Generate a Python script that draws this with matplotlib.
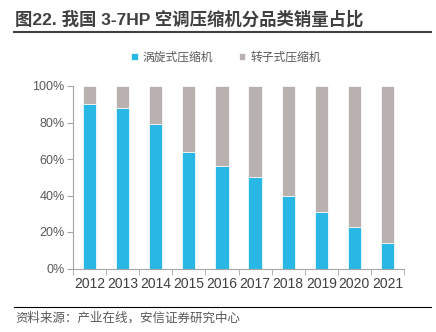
import matplotlib
matplotlib.use("Agg")
import matplotlib.pyplot as plt
import numpy as np

plt.rcParams['font.family'] = ['Liberation Sans', 'Noto Sans CJK SC', 'DejaVu Sans']

years = ['2012', '2013', '2014', '2015', '2016', '2017', '2018', '2019', '2020', '2021']
scroll = [90, 88, 79, 64, 56, 50, 40, 31, 23, 14]
rotary = [100 - v for v in scroll]

blue = '#29B8E6'
grey = '#B9B1AF'
axcol = '#A6A6A6'

fig = plt.figure(figsize=(4.36, 3.32), dpi=100)
ax = fig.add_axes([73 / 436, 1 - 268.5 / 332, 331 / 436, 182.5 / 332])

x = np.arange(len(years))
ax.bar(x, scroll, width=0.4, color=blue, edgecolor='white', linewidth=0.5, label='涡旋式压缩机')
ax.bar(x, rotary, width=0.4, bottom=scroll, color=grey, edgecolor='white', linewidth=0.5, label='转子式压缩机')

ax.set_xlim(-0.5, len(years) - 0.5)
ax.set_ylim(0, 100)
ax.set_yticks(range(0, 101, 20))
ax.set_yticklabels(['{}%'.format(v) for v in range(0, 101, 20)], fontsize=9, color='#595959')
ax.set_xticks(x)
ax.set_xticklabels(years, fontsize=10, color='#404040')
ax.set_xticks(np.arange(-0.5, len(years), 1), minor=True)
ax.tick_params(axis='x', which='major', length=0, pad=6)
ax.tick_params(axis='x', which='minor', length=4, color=axcol)
ax.tick_params(axis='y', length=4, color=axcol, pad=2)
for s in ['top', 'right']:
    ax.spines[s].set_visible(False)
for s in ['left', 'bottom']:
    ax.spines[s].set_color(axcol)

leg = fig.legend(loc='center', bbox_to_anchor=(226 / 436, 1 - 58 / 332), ncol=2, frameon=False,
                 fontsize=8.5, handlelength=0.55, handleheight=0.55, columnspacing=2.2, handletextpad=0.4)
for t in leg.get_texts():
    t.set_color('#595959')

fig.text(15 / 436, 1 - 19 / 332, '图22. 我国 3-7HP 空调压缩机分品类销量占比', fontsize=12.5, fontweight='bold',
         color='#404040', va='center', ha='left')
fig.add_artist(plt.Line2D([14 / 436, 431 / 436], [1 - 32 / 332, 1 - 32 / 332], color='#404040', lw=1.5))
fig.add_artist(plt.Line2D([14 / 436, 431 / 436], [1 - 307 / 332, 1 - 307 / 332], color='black', lw=0.8))
fig.text(15 / 436, 1 - 318 / 332, '资料来源：产业在线，安信证券研究中心', fontsize=9, style='italic',
         color='#595959', va='center', ha='left')

fig.savefig('out.png', dpi=100)
